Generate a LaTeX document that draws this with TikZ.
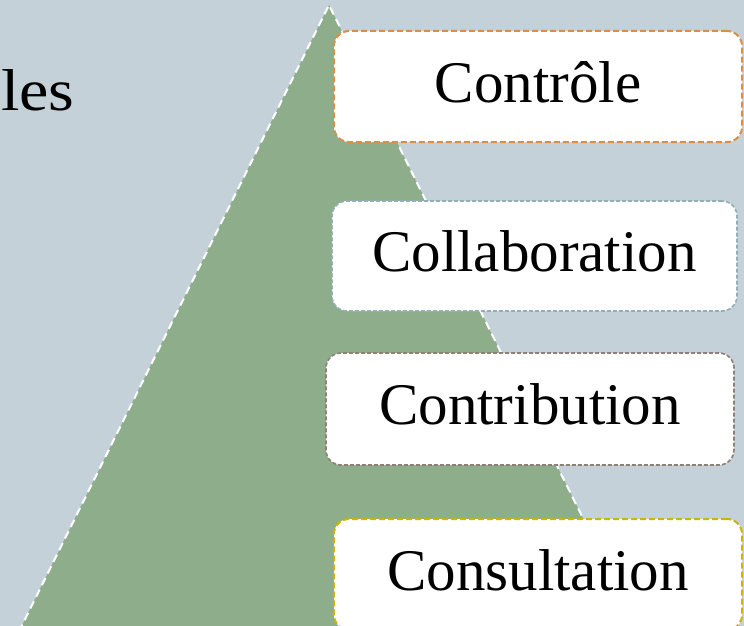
\documentclass[tikz,border=0pt]{standalone}
\usepackage{fontspec}
\setmainfont{Liberation Serif}
\usepackage{xcolor}
\usetikzlibrary{positioning}

\definecolor{backblue}{HTML}{C5D1D8}
\definecolor{pyrgreen}{HTML}{8EAE8B}
\definecolor{lineorange}{HTML}{D89048}
\definecolor{lineteal}{HTML}{92B0B4}
\definecolor{linebrown}{HTML}{8E8077}
\definecolor{lineyellow}{HTML}{CCB400}

\tikzset{
    levelbox/.style={rectangle, rounded corners=15pt, fill=white, line width=2pt,
        minimum width=408pt, minimum height=111pt, inner sep=0pt,
        text height=44pt, text depth=13pt,
        font=\fontsize{59}{66}\selectfont},
    thickdash/.style={dash pattern=on 6pt off 3pt},
    thindash/.style={line width=1.6pt, dash pattern=on 4pt off 2pt}
}

\begin{document}
\begin{tikzpicture}
                \tikzset{x={(1pt, 0pt)}, y={(0pt, -1pt)}}
                \useasboundingbox (0, 0) rectangle (744, 626);
                \clip (0, 0) rectangle (744, 626);
                \fill[backblue] (0, 0) rectangle (744, 626);
                % pyramid
                \coordinate (apex) at (329, 5);
                \coordinate (baseleft) at (-10, 690);
                \coordinate (baseright) at (668, 690);
                \fill[pyrgreen] (apex) -- (baseleft) -- (baseright) -- cycle;
                \draw[white, line width=2pt, dash pattern=on 8pt off 5pt] (baseleft) -- (apex) -- (baseright);
                % left title
                \node[anchor=base west, inner sep=0pt, xscale=1.12, font=\fontsize{59}{66}\selectfont] (title) at (1, 110) {les};
                % levels
                \node[levelbox, draw=lineorange, thickdash] (controle) at (538, 86.5) {Contrôle};
                \node[levelbox, draw=lineteal, thindash, minimum width=405pt, minimum height=110pt] (collab) at (534.5, 256) {Collaboration};
                \node[levelbox, draw=linebrown, thindash, minimum height=112pt] (contrib) at (530, 409) {Contribution};
                \node[levelbox, draw=lineyellow, thickdash] (consult) at (538, 574.5) {Consultation};
            \end{tikzpicture}
\end{document}
